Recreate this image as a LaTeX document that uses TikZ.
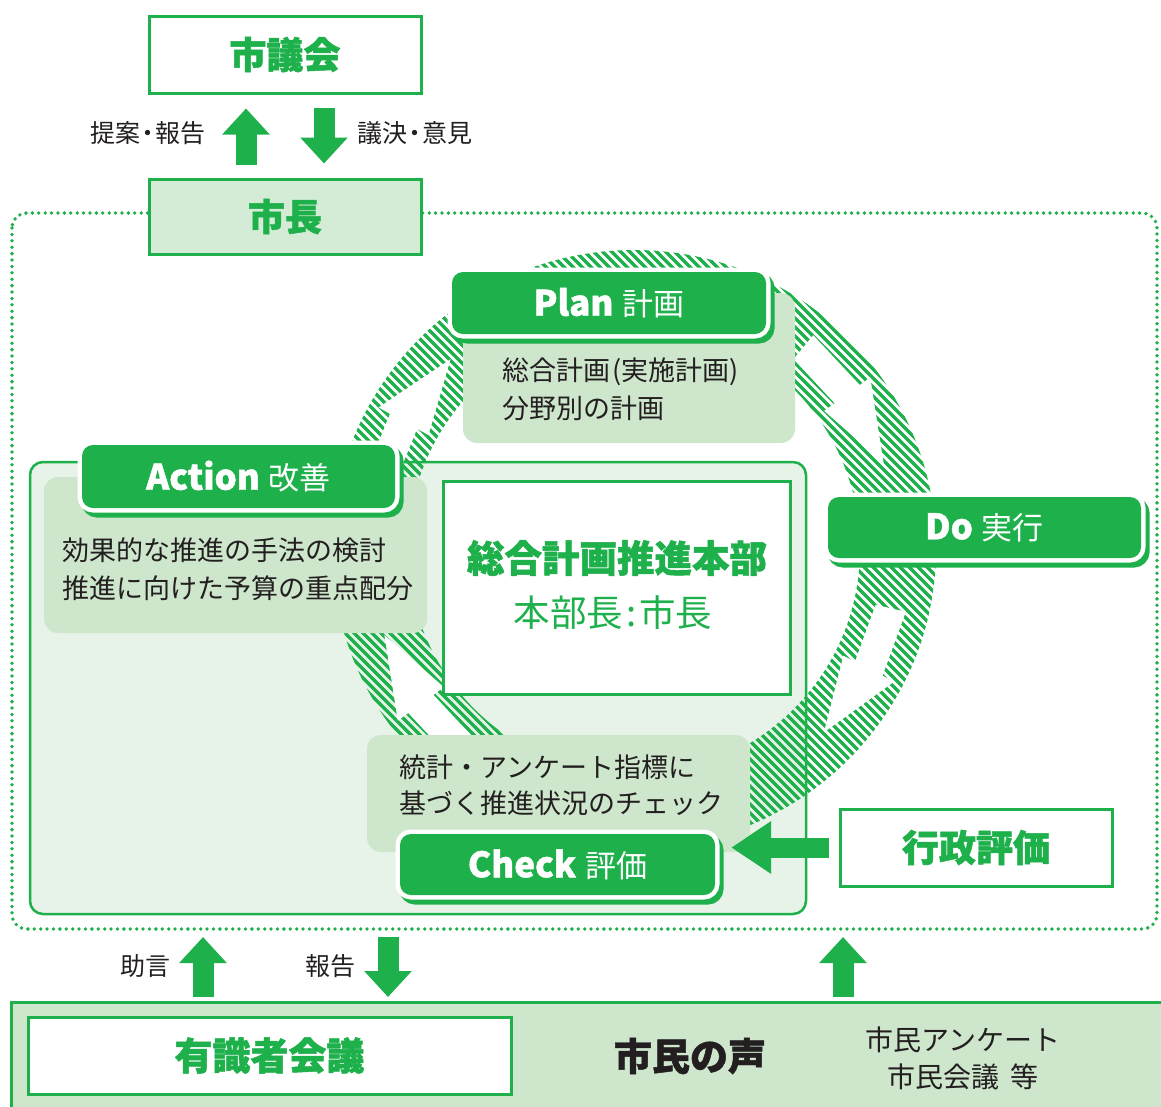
\documentclass[tikz,border=0pt]{standalone}
\usepackage{fontspec}
\setmainfont{Noto Sans CJK JP}
\newfontfamily\heavy{Noto Sans CJK JP}[BoldFeatures={FakeBold=1.3}]
\usetikzlibrary{arrows.meta,calc}
\definecolor{G}{HTML}{1DB04B}
\definecolor{LG}{HTML}{CDE6CC}
\definecolor{PG}{HTML}{E7F3E8}
\definecolor{MG}{HTML}{D4EBD6}
\definecolor{TXT}{HTML}{231F20}
\newcommand\fHead{\heavy\bfseries\fontsize{37}{40}\selectfont}
\newcommand\fLat{\heavy\bfseries\fontsize{35}{38}\selectfont}
\newcommand\fKan{\normalfont\mdseries\fontsize{31}{34}\selectfont}
\newcommand\fBody{\fontsize{27}{38}\selectfont}
\newcommand\fLab{\fontsize{25}{28}\selectfont}
\tikzset{
  gbox/.style={draw=G, line width=3pt, fill=white, inner sep=0pt},
  lbox/.style={fill=LG, rounded corners=14pt, inner sep=0pt},
  panel/.style={draw=G, line width=2.5pt, fill=PG, rounded corners=13pt, inner sep=0pt},
  pdca/.style={fill=G, rounded corners=11pt, text=white, inner sep=0pt,
    preaction={draw=G, fill=G, line width=9pt, transform canvas={shift={(4pt,-5pt)}}},
    preaction={draw=white, fill=white, line width=9pt}},
  headG/.style={text=G, font=\fHead, inner sep=0pt},
  body/.style={text=TXT, font=\fBody, align=left, inner sep=0pt},
  lab/.style={text=TXT, font=\fLab, inner sep=0pt},
  barrow/.style={G, line width=21pt, -{Triangle[length=26pt 0 0,width=46pt 0 0]}},
  hatchline/.style={G, line width=3.2pt}
}
\begin{document}
\begin{tikzpicture}[x=1pt,y=-1pt]
\useasboundingbox (0,0) rectangle (1161,1106);

% dotted frame
\draw[G, line width=3.8pt, dash pattern=on 0pt off 6.4pt, line cap=round, rounded corners=15pt]
  (12,213) rectangle (1157,929);

% big panel
\node[panel, minimum width=776pt, minimum height=452pt] (panel) at (418,688) {};

% ring (hatched annulus)
\coordinate (rc) at (634,549);
\begin{scope}[even odd rule]
  \clip (rc) ellipse [x radius=302, y radius=299] (rc) circle [radius=226];
  \foreach \c in {-540,-531,...,710}{
    \draw[hatchline] (240+\c,240) -- (860+\c,860);
  }
\end{scope}
\foreach \t in {226,341,44,161}{
  \fill[white] ($(rc)+(\t:264)$) -- ($(rc)+(\t-17:292)$) -- ($(rc)+(\t-17:279)$)
    -- ($(rc)+(\t-31:279)$) -- ($(rc)+(\t-31:248)$) -- ($(rc)+(\t-17:248)$)
    -- ($(rc)+(\t-17:235)$) -- cycle;
}

% Plan
\node[lbox, minimum width=332pt, minimum height=150pt] (plantb) at (629,368) {};
\node[pdca, minimum width=314pt, minimum height=62pt] (plan) at (609,303)
  {\fLat Plan\hspace{9pt}\fKan 計画};
\node[body, anchor=west] (plantxt) at (502,389) {総合計画\kern2pt(実施計画)\\分野別の計画};

% Action
\node[lbox, minimum width=383pt, minimum height=156pt] (acttb) at (235.5,555) {};
\node[pdca, minimum width=313pt, minimum height=63pt] (act) at (238.5,476.5)
  {\fLat Action\hspace{9pt}\fKan 改善};
\node[body, anchor=west] (acttxt) at (62,569) {効果的な推進の手法の検討\\推進に向けた予算の重点配分};

% Headquarters
\node[gbox, minimum width=347pt, minimum height=213pt] (hq) at (616.5,587.5) {};
\node[headG, font=\heavy\bfseries\fontsize{37.5}{40}\selectfont] (hqt) at (617,558) {総合計画推進本部};
\node[text=G, inner sep=0pt, font=\fontsize{36.5}{40}\selectfont] (hqs) at (613,613) {本部長\kern3pt:\kern3pt市長};

% Check
\node[lbox, minimum width=383pt, minimum height=117pt] (chktb) at (558.5,793.5) {};
\node[body, anchor=west, font=\fontsize{27}{36}\selectfont] (chktxt) at (399,785) {統計・アンケート指標に\\基づく推進状況のチェック};
\node[pdca, minimum width=315pt, minimum height=61pt] (chk) at (557.5,864.5)
  {\fLat Check\hspace{9pt}\fKan 評価};

% Do
\node[pdca, minimum width=313pt, minimum height=61pt] (do) at (984.5,527.5)
  {\fLat Do\hspace{9pt}\fKan 実行};

% Gyosei hyoka
\node[gbox, minimum width=272pt, minimum height=77pt, headG, draw=G, fill=white] (gyo) at (976,847.5) {行政評価};
\draw[G, line width=20pt, -{Triangle[length=40pt 0 0,width=50pt 0 0]}]
  ($(gyo.west)+(-10,0)$) -- ($(gyo.west -| chk.east)+(16,0)$);

% Top: council and mayor
\node[gbox, minimum width=272pt, minimum height=77pt, headG, draw=G, fill=white] (gikai) at (285,54.5) {市議会};
\node[gbox, minimum width=272pt, minimum height=75pt, headG, draw=G, fill=MG] (cho) at (285,216.5) {市長};
\draw[barrow] ($(cho.north)+(-39,-13)$) -- ($(gikai.south)+(-39,14)$);
\draw[barrow] ($(gikai.south)+(39,13)$) -- ($(cho.north)+(39,-14)$);
\node[lab, anchor=east] (lteian) at (206,133) {提案\kern-5pt・\kern-5pt報告};
\node[lab, anchor=west] (lgiketsu) at (357,133) {議決\kern-5pt・\kern-5pt意見};

% Bottom band
\node[draw=G, line width=3pt, fill=LG, minimum width=1180pt, minimum height=120pt, anchor=north west, inner sep=0pt] (band) at (10,1001) {};
\node[gbox, minimum width=483pt, minimum height=77pt, headG, font=\heavy\bfseries\fontsize{38}{40}\selectfont] (yushiki) at (269.5,1055.5) {有識者会議};
\node[text=TXT, inner sep=0pt, font=\heavy\bfseries\fontsize{38}{40}\selectfont] (koe) at (690,1056) {市民の声};
\node[text=TXT, inner sep=0pt, align=center, font=\fontsize{28}{37}\selectfont] (koetxt) at (963,1058) {市民アンケート\\市民会議\hspace{12pt}等};

% bottom arrows
\coordinate (a1s) at (203,997);
\coordinate (a1e) at (203,937);
\coordinate (a2s) at (388,937);
\coordinate (a2e) at (388,997);
\coordinate (a3s) at (843,997);
\coordinate (a3e) at (843,937);
\draw[barrow] (a1s) -- (a1e);
\draw[barrow] (a2s) -- (a2e);
\draw[barrow] (a3s) -- (a3e);
\node[lab] (ljogen) at (145,966) {助言};
\node[lab] (lhokoku) at (330,966) {報告};
\end{tikzpicture}
\end{document}
